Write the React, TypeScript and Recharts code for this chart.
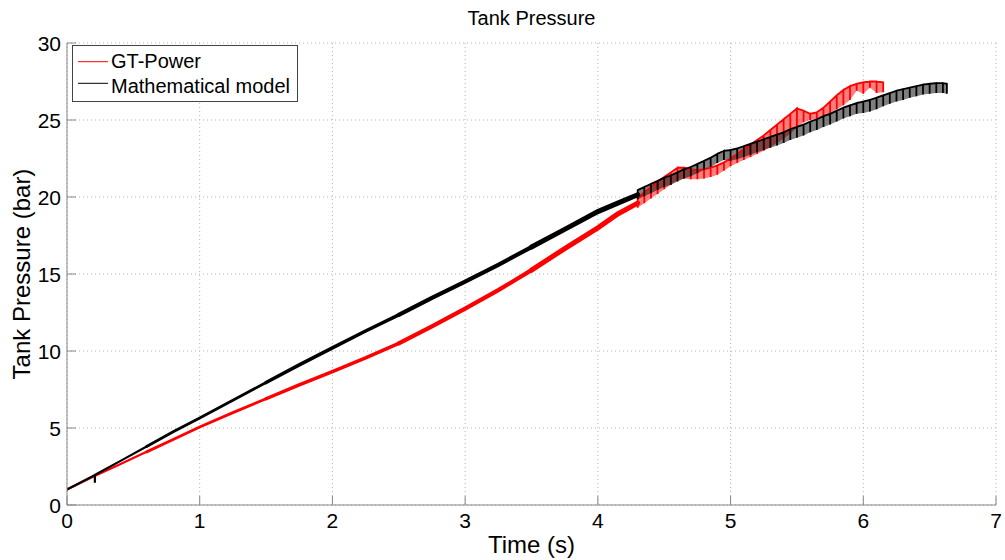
import React from "react";
import { ComposedChart, Line, Area, XAxis, YAxis, CartesianGrid } from "recharts";

// values (time in s, pressure in bar)
const redTime = [0, 0.2, 0.4, 0.6, 0.8, 1.0, 1.25, 1.5, 1.75, 2.0, 2.25, 2.5, 2.75, 3.0, 3.25, 3.5, 3.75, 4.0, 4.15, 4.3];
const redPressure = [1.0, 1.85, 2.65, 3.45, 4.25, 5.06, 6.0, 6.9, 7.8, 8.66, 9.55, 10.5, 11.6, 12.75, 13.95, 15.25, 16.65, 18.0, 18.9, 19.6];

const blackTime = [0, 0.21, 0.21, 0.21, 0.4, 0.6, 0.8, 1.0, 1.25, 1.5, 1.75, 2.0, 2.25, 2.5, 2.75, 3.0, 3.25, 3.5, 3.75, 4.0, 4.15, 4.3];
const blackPressure = [1.0, 1.95, 1.45, 1.95, 2.85, 3.8, 4.75, 5.65, 6.8, 7.95, 9.1, 10.2, 11.3, 12.35, 13.45, 14.5, 15.6, 16.75, 17.9, 19.05, 19.6, 20.15];

// oscillating part: top and bottom of each pressure pulse
const redTeethTime = [4.3, 4.35, 4.4, 4.45, 4.5, 4.55, 4.6, 4.65, 4.7, 4.75, 4.8, 4.85, 4.9, 4.95, 5.0, 5.05, 5.1, 5.15, 5.2, 5.25, 5.3, 5.35, 5.4, 5.45, 5.5, 5.55, 5.6, 5.65, 5.7, 5.75, 5.8, 5.85, 5.9, 5.95, 6.0, 6.05, 6.1, 6.15];
const redTeethHigh = [19.95, 20.3, 20.65, 21.0, 21.3, 21.6, 21.9, 21.9, 21.8, 21.75, 21.8, 21.9, 22.05, 22.25, 22.5, 22.8, 23.1, 23.4, 23.7, 24.0, 24.35, 24.7, 25.05, 25.4, 25.75, 25.6, 25.4, 25.5, 25.8, 26.2, 26.6, 26.95, 27.2, 27.35, 27.45, 27.5, 27.5, 27.45];
const redTeethLow = [19.3, 19.6, 19.9, 20.2, 20.5, 20.8, 21.1, 21.2, 21.15, 21.15, 21.2, 21.3, 21.45, 21.7, 22.0, 22.2, 22.4, 22.6, 22.8, 23.0, 23.25, 23.5, 23.8, 24.1, 24.5, 24.85, 25.0, 25.1, 25.25, 25.45, 25.7, 25.95, 26.3, 26.9, 26.7, 27.1, 26.75, 26.8];

const blackTeethTime = [4.3, 4.35, 4.4, 4.45, 4.5, 4.55, 4.6, 4.65, 4.7, 4.75, 4.8, 4.85, 4.9, 4.95, 5.0, 5.05, 5.1, 5.15, 5.2, 5.25, 5.3, 5.35, 5.4, 5.45, 5.5, 5.55, 5.6, 5.65, 5.7, 5.75, 5.8, 5.85, 5.9, 5.95, 6.0, 6.05, 6.1, 6.15, 6.2, 6.25, 6.3, 6.35, 6.4, 6.45, 6.5, 6.55, 6.6, 6.63];
const blackTeethHigh = [20.45, 20.65, 20.85, 21.05, 21.25, 21.4, 21.6, 21.8, 21.95, 22.15, 22.35, 22.55, 22.8, 23.0, 23.05, 23.15, 23.3, 23.45, 23.6, 23.75, 23.9, 24.05, 24.2, 24.4, 24.55, 24.7, 24.9, 25.05, 25.25, 25.4, 25.6, 25.8, 25.95, 26.1, 26.2, 26.3, 26.45, 26.6, 26.75, 26.9, 27.0, 27.1, 27.2, 27.3, 27.35, 27.4, 27.4, 27.35];
const blackTeethLow = [19.85, 20.05, 20.25, 20.45, 20.65, 20.8, 21.0, 21.2, 21.35, 21.55, 21.75, 21.95, 22.2, 22.4, 22.35, 22.45, 22.6, 22.75, 22.9, 23.05, 23.2, 23.35, 23.5, 23.7, 23.85, 24.0, 24.2, 24.35, 24.55, 24.7, 24.9, 25.1, 25.25, 25.4, 25.45, 25.55, 25.7, 25.9, 26.05, 26.2, 26.3, 26.45, 26.55, 26.65, 26.7, 26.75, 26.75, 26.7];

const xTicks = [0, 1, 2, 3, 4, 5, 6, 7];
const yTicks = [0, 5, 10, 15, 20, 25, 30];

const FONT = '"Liberation Sans", Arial, Helvetica, sans-serif';
const AXIS = "#868686";
const RED = "#ff0000";

// the smooth part gets thicker with time (dense small pulses in the original)
const segments = [
  { from: 0, to: 0.6, width: 2.2 },
  { from: 0.6, to: 1.5, width: 2.8 },
  { from: 1.5, to: 2.5, width: 3.5 },
  { from: 2.5, to: 3.5, width: 4.2 },
  { from: 3.5, to: 4.3, width: 5 },
];

const slice = (ts: number[], ps: number[], a: number, b: number) =>
  ts.map((t, i) => ({ t, p: ps[i] })).filter((d) => d.t >= a && d.t <= b);

const teeth = (ts: number[], hi: number[], lo: number[]) =>
  ts.flatMap((t, i) => [
    { t, p: hi[i] },
    { t, p: lo[i] },
    { t, p: hi[i] },
  ]);

const band = (ts: number[], hi: number[], lo: number[]) =>
  ts.map((t, i) => ({ t, range: [lo[i], hi[i]] }));

const redTeeth = teeth(redTeethTime, redTeethHigh, redTeethLow);
const blackTeeth = teeth(blackTeethTime, blackTeethHigh, blackTeethLow);
const redBand = band(redTeethTime, redTeethHigh, redTeethLow);
const blackBand = band(blackTeethTime, blackTeethHigh, blackTeethLow);

const BottomTick = ({ x, y, payload }: any) => (
  <g>
    <line x1={x} y1={y} x2={x} y2={y - 9} stroke={AXIS} />
    <text x={x} y={y + 23} textAnchor="middle" fontSize={21} fontFamily={FONT} fill="#000">
      {payload.value}
    </text>
  </g>
);

const TopTick = ({ x, y }: any) => <line x1={x} y1={y} x2={x} y2={y + 9} stroke={AXIS} />;

const LeftTick = ({ x, y, payload }: any) => (
  <g>
    <line x1={x} y1={y} x2={x + 9} y2={y} stroke={AXIS} />
    <text x={x - 6} y={y + 7.5} textAnchor="end" fontSize={21} fontFamily={FONT} fill="#000">
      {payload.value}
    </text>
  </g>
);

const RightTick = ({ x, y }: any) => <line x1={x} y1={y} x2={x - 9} y2={y} stroke={AXIS} />;

export default function App() {
  return (
    <div
      style={{
        position: "absolute",
        left: 0,
        top: 0,
        width: 1005,
        height: 560,
        background: "#fff",
        fontFamily: FONT,
        color: "#000",
      }}
    >
      <ComposedChart width={1005} height={560} margin={{ top: 43, right: 9, bottom: 25, left: 27 }}>
        <CartesianGrid stroke="#b4b4b4" strokeDasharray="1 3" />
        <XAxis
          dataKey="t"
          type="number"
          domain={[0, 7]}
          ticks={xTicks}
          height={30}
          stroke={AXIS}
          tickLine={false}
          tickSize={0}
          tickMargin={0}
          tick={(p: any) => <BottomTick {...p} />}
          allowDataOverflow
        />
        <XAxis
          xAxisId="top"
          orientation="top"
          dataKey="t"
          type="number"
          domain={[0, 7]}
          ticks={xTicks}
          height={0}
          stroke={AXIS}
          tickLine={false}
          tickSize={0}
          tickMargin={0}
          tick={(p: any) => <TopTick {...p} />}
        />
        <YAxis
          type="number"
          domain={[0, 30]}
          ticks={yTicks}
          width={40}
          stroke={AXIS}
          tickLine={false}
          tickSize={0}
          tickMargin={0}
          tick={(p: any) => <LeftTick {...p} />}
          allowDataOverflow
        />
        <YAxis
          yAxisId="right"
          orientation="right"
          type="number"
          domain={[0, 30]}
          ticks={yTicks}
          width={0}
          stroke={AXIS}
          tickLine={false}
          tickSize={0}
          tickMargin={0}
          tick={(p: any) => <RightTick {...p} />}
        />

        {segments.map((s) => (
          <Line
            key={`red-${s.from}`}
            data={slice(redTime, redPressure, s.from, s.to)}
            dataKey="p"
            type="linear"
            stroke={RED}
            strokeWidth={s.width}
            strokeLinecap="round"
            dot={false}
            isAnimationActive={false}
          />
        ))}
        <Area
          data={redBand}
          dataKey="range"
          type="linear"
          stroke="none"
          fill={RED}
          fillOpacity={0.5}
          isAnimationActive={false}
        />
        <Line
          data={redTeeth}
          dataKey="p"
          type="linear"
          stroke={RED}
          strokeWidth={1.8}
          dot={false}
          isAnimationActive={false}
        />
        {segments.map((s) => (
          <Line
            key={`black-${s.from}`}
            data={slice(blackTime, blackPressure, s.from, s.to)}
            dataKey="p"
            type="linear"
            stroke="#000"
            strokeWidth={s.width}
            strokeLinecap="round"
            dot={false}
            isAnimationActive={false}
          />
        ))}
        <Area
          data={blackBand}
          dataKey="range"
          type="linear"
          stroke="none"
          fill="#000"
          fillOpacity={0.5}
          isAnimationActive={false}
        />
        <Line
          data={blackTeeth}
          dataKey="p"
          type="linear"
          stroke="#000"
          strokeWidth={1.8}
          dot={false}
          isAnimationActive={false}
        />
      </ComposedChart>

      <div
        style={{
          position: "absolute",
          left: 67,
          width: 929,
          top: 8,
          fontSize: 20,
          lineHeight: "20px",
          textAlign: "center",
        }}
      >
        Tank Pressure
      </div>
      <div
        style={{
          position: "absolute",
          left: 67,
          width: 929,
          top: 533,
          fontSize: 24,
          lineHeight: "24px",
          textAlign: "center",
        }}
      >
        Time (s)
      </div>
      <div
        style={{
          position: "absolute",
          left: -128,
          top: 259,
          width: 300,
          height: 30,
          fontSize: 24,
          lineHeight: "30px",
          textAlign: "center",
          transform: "rotate(-90deg)",
        }}
      >
        Tank Pressure (bar)
      </div>

      <svg
        width={227}
        height={57}
        style={{ position: "absolute", left: 72, top: 45 }}
      >
        <rect x={0.5} y={0.5} width={225} height={56} fill="#fff" stroke="#444" />
        <line x1={6} y1={16.7} x2={36} y2={16.7} stroke={RED} strokeWidth={1} />
        <text x={39} y={23} fontSize={20} fontFamily={FONT} fill="#000">
          GT-Power
        </text>
        <line x1={6} y1={38.3} x2={36} y2={38.3} stroke="#000" strokeWidth={1} />
        <text x={39} y={48.3} fontSize={20} fontFamily={FONT} fill="#000">
          Mathematical model
        </text>
      </svg>
    </div>
  );
}
